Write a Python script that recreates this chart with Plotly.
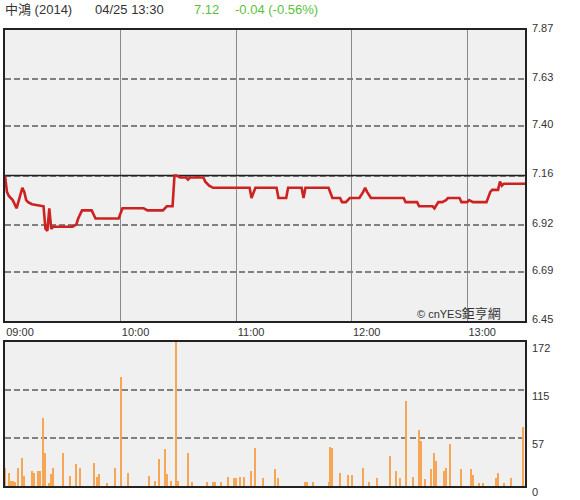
import plotly.graph_objects as go

# ---------------- data ----------------
stock_name = "中鴻 (2014)"
stamp = "04/25 13:30"
last_price = "7.12"
change_text = "-0.04 (-0.56%)"

# minutes after 09:00 and price at those minutes
price_minutes = [0, 1, 2, 4, 6, 7, 9, 10, 11, 12, 14, 20, 21, 22, 23, 24, 25, 35, 37, 38,
                 40, 45, 47, 59, 61, 72, 74, 82, 84, 87, 88, 89, 91, 94, 95, 96, 103, 104,
                 105, 106, 108, 127, 128, 130, 141, 142, 146, 147, 154, 155, 156, 168, 170,
                 174, 175, 177, 179, 184, 186, 187, 188, 190, 207, 208, 214, 215, 222, 223,
                 225, 227, 229, 230, 236, 237, 240, 241, 243, 250, 252, 253, 256, 257, 258,
                 259, 270]
prices = [7.16, 7.08, 7.06, 7.04, 7.00, 7.03, 7.10, 7.08, 7.04, 7.03, 7.02, 7.01, 6.90, 6.89,
          7.00, 6.90, 6.91, 6.91, 6.92, 6.95, 6.99, 6.99, 6.95, 6.95, 7.00, 7.00, 6.99, 6.99,
          7.01, 7.01, 7.16, 7.16, 7.15, 7.15, 7.14, 7.15, 7.15, 7.13, 7.12, 7.11, 7.10, 7.10,
          7.05, 7.10, 7.10, 7.05, 7.05, 7.10, 7.10, 7.05, 7.10, 7.10, 7.05, 7.05, 7.03, 7.03,
          7.05, 7.05, 7.08, 7.10, 7.08, 7.05, 7.05, 7.03, 7.03, 7.01, 7.01, 7.00, 7.03, 7.03,
          7.04, 7.05, 7.05, 7.03, 7.03, 7.04, 7.03, 7.03, 7.08, 7.09, 7.09, 7.13, 7.11, 7.12,
          7.12]

vol_minutes = [0, 2, 3, 4, 5, 7, 9, 10, 14, 15, 17, 18, 20, 21, 23, 24, 25, 30, 34, 37, 39,
               46, 48, 49, 53, 57, 60, 64, 75, 78, 80, 83, 84, 86, 89, 90, 95, 97, 105, 108,
               109, 112, 116, 119, 120, 122, 124, 128, 130, 134, 140, 142, 156, 157, 160, 168,
               169, 170, 174, 178, 180, 186, 189, 193, 200, 203, 205, 208, 212, 215, 216, 218,
               221, 223, 224, 228, 229, 231, 237, 242, 243, 246, 248, 255, 256, 259, 263, 269]
volumes = [22, 16, 6, 6, 5, 21, 33, 12, 18, 15, 18, 18, 81, 40, 4, 14, 21, 40, 12, 26, 22,
           27, 11, 14, 4, 21, 130, 16, 12, 6, 32, 44, 14, 6, 172, 6, 39, 5, 5, 5,
           5, 5, 11, 10, 10, 11, 11, 18, 45, 10, 20, 10, 5, 5, 5, 5,
           46, 45, 16, 13, 13, 21, 5, 9, 36, 18, 10, 101, 11, 67, 54, 8,
           20, 40, 30, 18, 21, 50, 20, 20, 13, 4, 4, 10, 16, 3, 10, 70]

prev_close = 7.16
price_ticks = [6.45, 6.69, 6.92, 7.16, 7.40, 7.63, 7.87]
vol_ticks = [0, 57, 115, 172]
time_tickvals = [0, 60, 120, 180, 240]
time_labels = ["09:00", "10:00", "11:00", "12:00", "13:00"]

# ---------------- figure ----------------
FONT = "Arial, Liberation Sans, Noto Sans CJK TC, sans-serif"
fig = go.Figure()

fig.add_trace(go.Scatter(x=price_minutes, y=prices, mode="lines",
                         line=dict(color="#cc2222", width=2.6),
                         xaxis="x", yaxis="y", hoverinfo="skip"))
fig.add_trace(go.Bar(x=vol_minutes, y=volumes, width=0.55,
                     marker=dict(color="#f6a655", line=dict(width=0)),
                     xaxis="x2", yaxis="y2", hoverinfo="skip"))

# previous close line (solid black)
fig.add_shape(type="line", xref="x", yref="y", x0=0, x1=270, y0=prev_close, y1=prev_close,
              line=dict(color="#222222", width=1.5), layer="between")

fig.update_layout(
    width=580, height=500,
    margin=dict(l=5, r=55, t=30, b=14, autoexpand=False),
    paper_bgcolor="white", plot_bgcolor="#f0f0f0",
    showlegend=False,
    font=dict(family=FONT, size=11, color="#333333"),
    bargap=0,
    xaxis=dict(domain=[0, 1], range=[0, 270], tickvals=time_tickvals, ticktext=time_labels,
               showgrid=True, gridcolor="#8a8a8a", gridwidth=1, zeroline=False,
               showline=True, mirror=True, linecolor="#222222", linewidth=1.5,
               ticks="", ticklabelshift=15, ticklabelstandoff=0, automargin=False,
               tickfont=dict(size=11, color="#333333"), anchor="y", fixedrange=True),
    yaxis=dict(domain=[0.3618, 1.0], range=[6.45, 7.87], tickvals=price_ticks,
               ticktext=[f"{v:.2f}" for v in price_ticks], side="right",
               showgrid=True, gridcolor="#808080", gridwidth=1.6, griddash="6px,3px",
               zeroline=False, showline=True, mirror=True, linecolor="#222222", linewidth=1.5,
               ticks="", ticklabelshift=-2, ticklabelstandoff=3, automargin=False,
               tickfont=dict(size=11, color="#333333"), anchor="x"),
    xaxis2=dict(domain=[0, 1], range=[0, 270], showticklabels=False, showgrid=False,
                zeroline=False, showline=True, mirror=True, linecolor="#222222",
                linewidth=1.5, ticks="", anchor="y2", automargin=False),
    yaxis2=dict(domain=[0, 0.3158], range=[0, 172], tickvals=vol_ticks,
                ticktext=[str(v) for v in vol_ticks], side="right",
                showgrid=True, gridcolor="#808080", gridwidth=1.6, griddash="6px,3px",
                zeroline=False, showline=True, mirror=True, linecolor="#222222", linewidth=1.5,
                ticks="", ticklabelshift=6, ticklabelstandoff=3, automargin=False,
                tickfont=dict(size=11, color="#333333"), anchor="x2"),
)

hdr_y = 1.044
fig.add_annotation(xref="paper", yref="paper", x=-0.004, y=hdr_y, xanchor="left", yanchor="middle",
                   text=stock_name, showarrow=False, font=dict(size=13, color="#333333"))
fig.add_annotation(xref="paper", yref="paper", x=0.169, y=hdr_y, xanchor="left", yanchor="middle",
                   text=stamp, showarrow=False, font=dict(size=13, color="#333333"))
fig.add_annotation(xref="paper", yref="paper", x=0.3596, y=hdr_y, xanchor="left", yanchor="middle",
                   text=last_price, showarrow=False, font=dict(size=13, color="#5cbf3c"))
fig.add_annotation(xref="paper", yref="paper", x=0.4385, y=hdr_y, xanchor="left", yanchor="middle",
                   text=change_text, showarrow=False, font=dict(size=13, color="#5cbf3c"))
fig.add_annotation(xref="paper", yref="paper", x=0.958, y=0.379, xanchor="right", yanchor="middle",
                   text='© cnYES<span style="font-size:13px">鉅亨網</span>', showarrow=False,
                   font=dict(size=11, color="#333333"))

fig.write_html("out.html", config={"displayModeBar": False},
               post_script="document.body.style.margin='0';document.body.style.overflow='hidden';")
